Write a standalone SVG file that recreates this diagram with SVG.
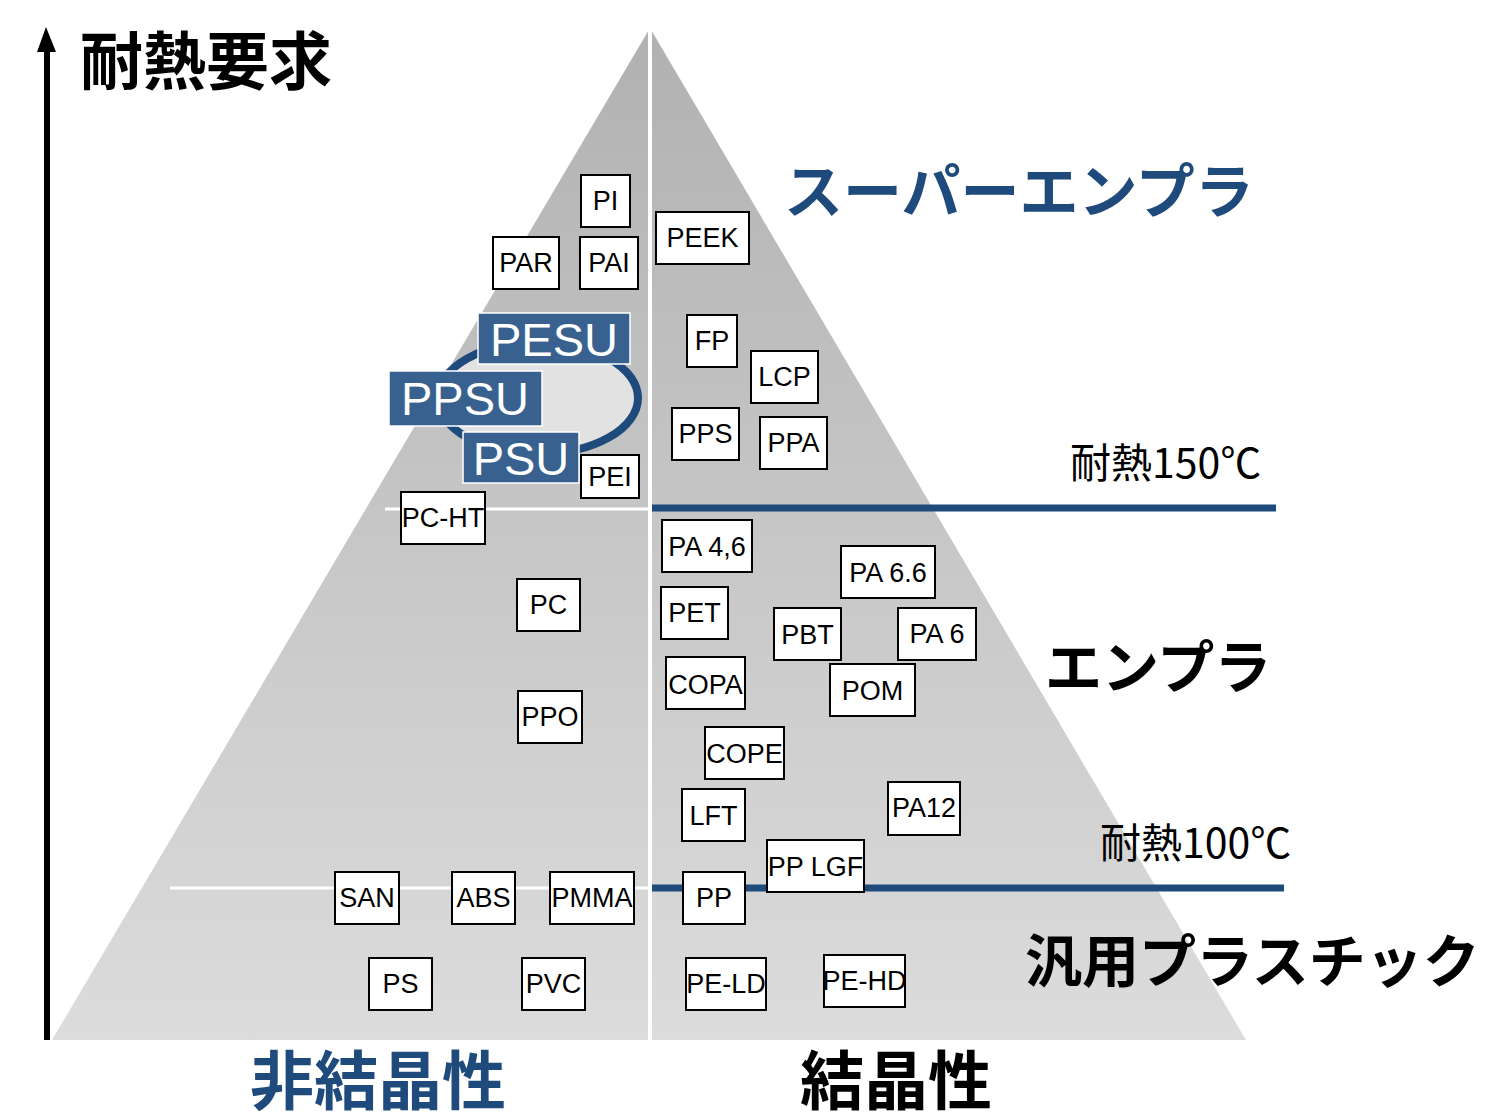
<svg xmlns="http://www.w3.org/2000/svg" width="1507" height="1119" viewBox="0 0 1507 1119">
<style>
.box rect{fill:#fff;stroke:#000;stroke-width:2}
.box text{font-family:"Liberation Sans",Arial,sans-serif;font-size:27px;fill:#000;text-anchor:middle}
.blue rect{fill:#386190;stroke:#fff;stroke-width:1.5}
.blue text{font-family:"Liberation Sans",Arial,sans-serif;font-size:47px;fill:#fff;text-anchor:middle}
.jp{font-family:"Noto Sans CJK JP","Noto Sans CJK SC",sans-serif}
.h{font-weight:bold}
</style>
<defs>
<linearGradient id="g" x1="0" y1="28" x2="0" y2="1040" gradientUnits="userSpaceOnUse">
<stop offset="0" stop-color="#b1b1b1"/>
<stop offset="1" stop-color="#dcdcdc"/>
</linearGradient>
</defs>
<rect width="1507" height="1119" fill="#fff"/>
<g id="pyramid">
<polygon points="650,28 1246,1040 52,1040" fill="url(#g)"/>
<line x1="650" y1="28" x2="650" y2="1040" stroke="#fff" stroke-width="4"/>
<line x1="385" y1="509" x2="648" y2="509" stroke="#fff" stroke-width="3"/>
<line x1="170" y1="888" x2="648" y2="888" stroke="#fff" stroke-width="3"/>
</g>
<g id="connectors">
<line x1="47" y1="1040" x2="47" y2="45" stroke="#000" stroke-width="6"/>
<path d="M37,52 L46,27 L56,52 Z" fill="#000"/>
<line x1="652" y1="508" x2="1276" y2="508" stroke="#1f4a7c" stroke-width="7"/>
<line x1="652" y1="888" x2="1284" y2="888" stroke="#1f4a7c" stroke-width="7"/>
</g>
<g id="labels">
<text class="jp h" x="80" y="84" font-size="63">耐熱要求</text>
<text class="jp h" x="784" y="213" font-size="59" fill="#1f4a7c">スーパーエンプラ</text>
<text class="jp" x="1070" y="478" font-size="41">耐熱150℃</text>
<text class="jp h" x="1045" y="688" font-size="57">エンプラ</text>
<text class="jp" x="1100" y="858" font-size="41">耐熱100℃</text>
<text class="jp h" x="1025" y="982" font-size="57">汎用プラスチック</text>
<text class="jp h" x="250" y="1104" font-size="64" fill="#1f4a7c">非結晶性</text>
<text class="jp h" x="800" y="1104" font-size="64">結晶性</text>
</g>
<g id="sulfone-ellipse">
<ellipse cx="538" cy="398" rx="100" ry="56" fill="#e2e2e2" stroke="#1f4a7c" stroke-width="8"/>
</g>
<g id="PESU" class="blue"><rect x="478" y="313" width="152" height="51"/><text x="554" y="356">PESU</text></g>
<g id="PPSU" class="blue"><rect x="389" y="371" width="153" height="55"/><text x="465" y="415">PPSU</text></g>
<g id="PSU" class="blue"><rect x="463" y="432" width="116" height="51"/><text x="521" y="475">PSU</text></g>
<g id="PI" class="box"><rect x="581" y="175" width="49" height="52"/><text x="605.5" y="210">PI</text></g>
<g id="PAR" class="box"><rect x="493" y="237" width="66" height="52"/><text x="526" y="272">PAR</text></g>
<g id="PAI" class="box"><rect x="580" y="237" width="58" height="52"/><text x="609" y="272">PAI</text></g>
<g id="PEEK" class="box"><rect x="656" y="212" width="93" height="52"/><text x="702.5" y="247">PEEK</text></g>
<g id="FP" class="box"><rect x="687" y="315" width="50" height="52"/><text x="712" y="350">FP</text></g>
<g id="LCP" class="box"><rect x="751" y="351" width="67" height="52"/><text x="784.5" y="386">LCP</text></g>
<g id="PPS" class="box"><rect x="672" y="408" width="67" height="52"/><text x="705.5" y="443">PPS</text></g>
<g id="PPA" class="box"><rect x="760" y="417" width="67" height="52"/><text x="793.5" y="452">PPA</text></g>
<g id="PEI" class="box"><rect x="581" y="455" width="58" height="43"/><text x="610" y="486">PEI</text></g>
<g id="PC-HT" class="box"><rect x="401" y="492" width="84" height="52"/><text x="443" y="527">PC-HT</text></g>
<g id="PC" class="box"><rect x="517" y="579" width="63" height="52"/><text x="548.5" y="614">PC</text></g>
<g id="PPO" class="box"><rect x="518" y="691" width="64" height="52"/><text x="550" y="726">PPO</text></g>
<g id="PA46" class="box"><rect x="662" y="520" width="90" height="52"/><text x="707" y="556">PA 4,6</text></g>
<g id="PA66" class="box"><rect x="841" y="546" width="94" height="52"/><text x="888" y="582">PA 6.6</text></g>
<g id="PET" class="box"><rect x="661" y="587" width="67" height="52"/><text x="694.5" y="622">PET</text></g>
<g id="PBT" class="box"><rect x="774" y="608" width="67" height="52"/><text x="807.5" y="644">PBT</text></g>
<g id="PA6" class="box"><rect x="898" y="608" width="78" height="52"/><text x="937" y="643">PA 6</text></g>
<g id="COPA" class="box"><rect x="666" y="657" width="79" height="52"/><text x="705.5" y="694">COPA</text></g>
<g id="POM" class="box"><rect x="830" y="664" width="85" height="52"/><text x="872.5" y="700">POM</text></g>
<g id="COPE" class="box"><rect x="705" y="727" width="79" height="52"/><text x="744.5" y="763">COPE</text></g>
<g id="LFT" class="box"><rect x="682" y="789" width="63" height="52"/><text x="713.5" y="825">LFT</text></g>
<g id="PA12" class="box"><rect x="888" y="782" width="72" height="53"/><text x="924" y="817">PA12</text></g>
<g id="PPLGF" class="box"><rect x="767" y="840" width="97" height="52"/><text x="815.5" y="876">PP LGF</text></g>
<g id="PP" class="box"><rect x="683" y="872" width="62" height="52"/><text x="714" y="907">PP</text></g>
<g id="SAN" class="box"><rect x="335" y="872" width="64" height="52"/><text x="367" y="907">SAN</text></g>
<g id="ABS" class="box"><rect x="452" y="872" width="63" height="52"/><text x="483.5" y="907">ABS</text></g>
<g id="PMMA" class="box"><rect x="550" y="872" width="84" height="52"/><text x="592" y="907">PMMA</text></g>
<g id="PS" class="box"><rect x="369" y="958" width="63" height="52"/><text x="400.5" y="993">PS</text></g>
<g id="PVC" class="box"><rect x="522" y="958" width="63" height="52"/><text x="553.5" y="993">PVC</text></g>
<g id="PE-LD" class="box"><rect x="686" y="958" width="80" height="52"/><text x="726" y="993">PE-LD</text></g>
<g id="PE-HD" class="box"><rect x="824" y="955" width="81" height="52"/><text x="864.5" y="990">PE-HD</text></g>
</svg>
